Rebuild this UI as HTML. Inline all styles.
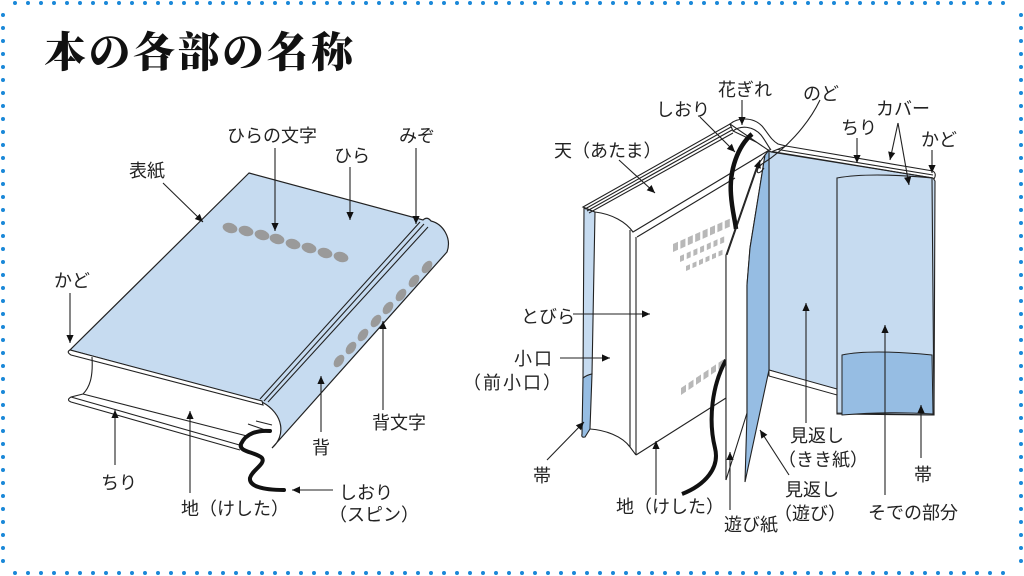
<!DOCTYPE html>
<html><head><meta charset="utf-8"><style>
html,body{margin:0;padding:0;background:#fff;}
svg{display:block;}
.t{font-family:"Liberation Sans","Noto Sans CJK JP",sans-serif;font-size:18px;fill:#222;}
.ttl{font-family:"Liberation Serif","Noto Serif CJK SC",serif;font-size:42px;font-weight:900;fill:#111;letter-spacing:2.5px;}
.ln{stroke:#222;stroke-width:1.1;fill:none;}
.ar{stroke:#222;stroke-width:1.1;fill:none;marker-end:url(#a);}
</style></head><body>
<svg width="1024" height="576" viewBox="0 0 1024 576" xmlns="http://www.w3.org/2000/svg">
<defs>
<marker id="a" viewBox="0 0 10 10" refX="10" refY="5" markerWidth="9" markerHeight="8" orient="auto" markerUnits="userSpaceOnUse">
<path d="M0,0.5 L10,5 L0,9.5 Z" fill="#111"/>
</marker>
</defs>
<rect width="1024" height="576" fill="#fff"/>
<!-- dotted border -->
<g stroke="#1a88d8" stroke-width="4" stroke-linecap="round" stroke-dasharray="0 13">
<line x1="15" y1="3" x2="1012" y2="3"/>
<line x1="15" y1="573" x2="1012" y2="573"/>
<line x1="3" y1="15" x2="3" y2="562"/>
<line x1="1021" y1="15" x2="1021" y2="562"/>
</g>
<text class="ttl" x="44" y="67">本の各部の名称</text>

<!-- ============ LEFT BOOK ============ -->
<!-- cover + spine -->
<path d="M249,173 L423,220 Q427,216 431,221 C443,224 452,238 447,252 L272,448 C286,436 284,414 262,402 L70,350 Z" fill="#c6dbf0" stroke="#222" stroke-width="1.2"/>
<!-- board edge -->
<path d="M70,350 L262,401 L263,405 L71,355 Q66,352 70,350 Z" fill="#fff" stroke="#222" stroke-width="1.1"/>
<!-- mizo lines -->
<path class="ln" d="M420,222 L260,399 M424,224 L264,401 M428,227 L268,402"/>
<!-- page fore-edge & bottom -->
<path class="ln" d="M92,357 C93,374 91,386 83,394"/>
<path class="ln" d="M83,394 L247,436"/>
<path class="ln" d="M83,394 L71,397 Q66,400 71,402 L240,450"/>
<path class="ln" d="M71,397 L243,446"/>
<path class="ln" d="M248,424 L271,432 M256,421 L272,425"/>
<!-- cover ellipses -->
<g fill="#9a9a9a">
<ellipse cx="230" cy="228" rx="7.5" ry="5" transform="rotate(15 230 228)"/>
<ellipse cx="246" cy="231" rx="7.5" ry="5" transform="rotate(15 246 231)"/>
<ellipse cx="262" cy="235" rx="7.5" ry="5" transform="rotate(15 262 235)"/>
<ellipse cx="277" cy="239" rx="7.5" ry="5" transform="rotate(15 277 239)"/>
<ellipse cx="293" cy="244" rx="7.5" ry="5" transform="rotate(15 293 244)"/>
<ellipse cx="309" cy="248" rx="7.5" ry="5" transform="rotate(15 309 248)"/>
<ellipse cx="325" cy="253" rx="7.5" ry="5" transform="rotate(15 325 253)"/>
<ellipse cx="341" cy="257" rx="7.5" ry="5" transform="rotate(15 341 257)"/>
<ellipse cx="427" cy="267" rx="7" ry="4.3" transform="rotate(-55 427 267)"/>
<ellipse cx="414" cy="281" rx="7" ry="4.3" transform="rotate(-55 414 281)"/>
<ellipse cx="401" cy="295" rx="7" ry="4.3" transform="rotate(-55 401 295)"/>
<ellipse cx="388" cy="308" rx="7" ry="4.3" transform="rotate(-55 388 308)"/>
<ellipse cx="376" cy="321" rx="7" ry="4.3" transform="rotate(-55 376 321)"/>
<ellipse cx="363" cy="335" rx="7" ry="4.3" transform="rotate(-55 363 335)"/>
<ellipse cx="351" cy="348" rx="7" ry="4.3" transform="rotate(-55 351 348)"/>
<ellipse cx="339" cy="361" rx="7" ry="4.3" transform="rotate(-55 339 361)"/>
</g>
<!-- ribbon -->
<path d="M270,431 C258,430 246,433 241,444 C238,452 256,452 262,458 C266,464 252,470 250,478 C249,486 262,490 284,490" fill="none" stroke="#111" stroke-width="4" stroke-linecap="round"/>
<path d="M246,440 C252,443 260,445 266,444" fill="none" stroke="#fff" stroke-width="1"/>

<!-- left arrows -->
<path class="ar" d="M163,183 L203,222"/>
<path class="ar" d="M275,148 L275,231"/>
<path class="ar" d="M350,167 L350,220"/>
<path class="ar" d="M416,148 L416,224"/>
<path class="ar" d="M70,293 L70,343"/>
<path class="ar" d="M115,465 L115,410"/>
<path class="ar" d="M190,493 L190,411"/>
<path class="ar" d="M333,490 L292,490"/>
<path class="ar" d="M321,432 L321,376"/>
<path class="ar" d="M383,410 L383,321"/>

<!-- left labels -->
<text class="t" x="129" y="177">表紙</text>
<text class="t" x="227" y="142">ひらの文字</text>
<text class="t" x="334" y="162">ひら</text>
<text class="t" x="399" y="142">みぞ</text>
<text class="t" x="54" y="287">かど</text>
<text class="t" x="101" y="489">ちり</text>
<text class="t" x="181" y="515">地（けした）</text>
<text class="t" x="339" y="499">しおり</text>
<text class="t" x="329" y="521">（スピン）</text>
<text class="t" x="312" y="454">背</text>
<text class="t" x="372" y="429">背文字</text>

<!-- ============ RIGHT BOOK ============ -->
<!-- right panel (front cover inside) -->
<path d="M769,151 L933,178 L935,181 L934,415 L837,414 L837,390 L769,370 Z" fill="#c6dbf0" stroke="#222" stroke-width="1.1"/>
<path d="M769,370 L837,389 L837,395 L769,376 Z" fill="#fff" stroke="#222" stroke-width="1"/>
<path class="ln" d="M786,146 L933,171 M775,149 L933,175 M771,152 L933,178"/>
<path d="M933,171 Q937,174 934,179" fill="none" stroke="#222" stroke-width="1"/>
<!-- jacket flap -->
<path d="M837,178 Q870,172 932,178 L934,415 L837,413 Z" fill="#c6dbf0" stroke="#222" stroke-width="1.1"/>
<path d="M842,355 Q870,349 932,355 L933,414 Q890,411 842,415 Z" fill="#96bde3" stroke="#222" stroke-width="1"/>

<!-- back cover strip -->
<path d="M584,208 L595,212 L592,374 Q587,375 583,378 Z" fill="#c6dbf0" stroke="#222" stroke-width="1.1"/>
<path d="M583,378 Q587,375 592,374 L590,429 L585,437 Q581,438 582,434 Z" fill="#96bde3" stroke="#222" stroke-width="1.1"/>

<!-- top (天) -->
<path d="M583,207 L730,124 L733,131 L771,149 L633,232 C626,222 612,214 595,212 Z" fill="#fff" stroke="#222" stroke-width="1.1"/>
<path class="ln" d="M585,209 L731,127 M587,211 L732,130 M589,213 L733,133"/>
<path class="ln" d="M637,237 L735,178"/>
<!-- hanagire -->
<path d="M730,124 C737,118 752,116 762,126 C768,133 771,140 778,144 L786,146 L771,152 Z" fill="#fff" stroke="#222" stroke-width="1.1"/>
<path class="ln" d="M733,131 C741,125 753,126 761,135 C765,140 768,146 771,150"/>

<!-- fore-edge & tobira -->
<path class="ln" d="M630,230 L630,447 M636,237 L636,455"/>
<path class="ln" d="M590,429 C605,430 622,436 630,447 L636,455"/>
<path class="ln" d="M636,455 L726,398"/>
<path class="ln" d="M726,255 L726,480"/>

<!-- gray blocks -->
<g fill="#b8b8b8">
<g transform="translate(673,244) skewY(-24)">
<rect x="0" y="0" width="5" height="8"/><rect x="7.4" y="0" width="5" height="8"/><rect x="14.8" y="0" width="5" height="8"/><rect x="22.2" y="0" width="5" height="8"/><rect x="29.6" y="0" width="5" height="8"/><rect x="37" y="0" width="5" height="8"/><rect x="44.4" y="0" width="5" height="8"/><rect x="51.8" y="0" width="5" height="8"/>
</g>
<g transform="translate(680,256) skewY(-24)">
<rect x="0" y="0" width="4" height="6"/><rect x="6.7" y="0" width="4" height="6"/><rect x="13.4" y="0" width="4" height="6"/><rect x="20.1" y="0" width="4" height="6"/><rect x="26.8" y="0" width="4" height="6"/><rect x="33.5" y="0" width="4" height="6"/><rect x="40.2" y="0" width="4" height="6"/>
</g>
<g transform="translate(686,266) skewY(-24)">
<rect x="0" y="0" width="4" height="5"/><rect x="6.5" y="0" width="4" height="5"/><rect x="13" y="0" width="4" height="5"/><rect x="19.5" y="0" width="4" height="5"/><rect x="26" y="0" width="4" height="5"/><rect x="32.5" y="0" width="4" height="5"/>
</g>
<g transform="translate(681,388) skewY(-34)">
<rect x="0" y="0" width="5" height="7"/><rect x="7.5" y="0" width="5" height="7"/><rect x="15" y="0" width="5" height="7"/><rect x="22.5" y="0" width="5" height="7"/><rect x="30" y="0" width="5" height="7"/><rect x="37.5" y="0" width="5" height="7"/>
</g>
</g>

<!-- lower ribbon -->
<path d="M726,360 C712,385 708,420 715,448 C720,468 705,485 682,494" fill="none" stroke="#111" stroke-width="4"/>

<!-- asobi leaf (white) -->
<path d="M726,255 L757,166 L765,155 L750,248 L747,285 L747,413 L726,480 Z" fill="#fff" stroke="#222" stroke-width="1.1"/>
<!-- mikaeshi asobi (dark strip) -->
<path d="M765,155 L769,150 L769,370 L745,482 L747,413 L747,285 L750,248 Z" fill="#96bde3" stroke="#222" stroke-width="1.1"/>

<!-- upper ribbon -->
<path d="M752,134 C738,146 729,170 731,195 C732,210 735,220 736,229" fill="none" stroke="#111" stroke-width="4.5"/>

<!-- nodo pointer -->
<path class="ln" d="M820,100 C808,125 785,150 762,164 C754,170 757,178 764,168"/>
<path class="ar" d="M727,255 L760,160"/>

<!-- right arrows -->
<path class="ar" d="M742,100 L742,125"/>
<path class="ar" d="M700,117 L735,152"/>
<path class="ar" d="M619,160 L655,193"/>
<path class="ar" d="M857,138 L857,163"/>
<path class="ar" d="M898,123 L890,160"/>
<path class="ar" d="M898,123 L909,185"/>
<path class="ar" d="M932,150 L932,173"/>
<path class="ar" d="M573,314 L650,314"/>
<path class="ar" d="M560,358 L610,358"/>
<path class="ar" d="M547,460 L584,422"/>
<path class="ar" d="M656,495 L656,441"/>
<path class="ar" d="M730,510 L730,452"/>
<path class="ar" d="M789,475 L760,430"/>
<path class="ar" d="M806,423 L806,303"/>
<path class="ar" d="M921,458 L921,405"/>
<path class="ar" d="M885,495 L885,325"/>

<!-- right labels -->
<text class="t" x="718" y="96">花ぎれ</text>
<text class="t" x="656" y="116">しおり</text>
<text class="t" x="803" y="100">のど</text>
<text class="t" x="554" y="157">天（あたま）</text>
<text class="t" x="841" y="134">ちり</text>
<text class="t" x="876" y="115">カバー</text>
<text class="t" x="921" y="146">かど</text>
<text class="t" x="521" y="323">とびら</text>
<text class="t" x="514" y="365" letter-spacing="2">小口</text>
<text class="t" x="463" y="389" letter-spacing="2">（前小口）</text>
<text class="t" x="533" y="482">帯</text>
<text class="t" x="616" y="513">地（けした）</text>
<text class="t" x="724" y="531">遊び紙</text>
<text class="t" x="785" y="496">見返し</text>
<text class="t" x="774" y="520">（遊び）</text>
<text class="t" x="790" y="442">見返し</text>
<text class="t" x="778" y="466">（きき紙）</text>
<text class="t" x="914" y="481">帯</text>
<text class="t" x="868" y="519">そでの部分</text>
</svg>
</body></html>
